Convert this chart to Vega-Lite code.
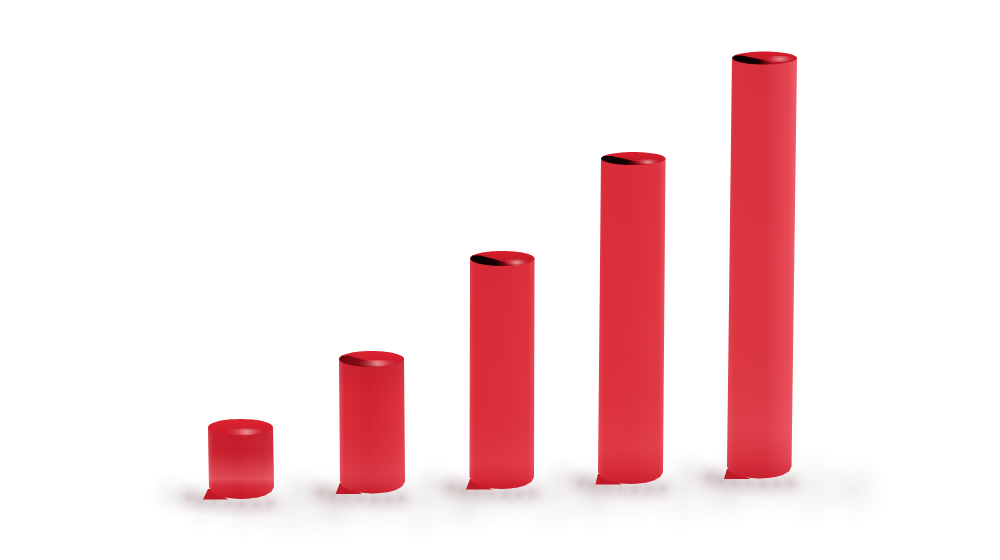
{"$schema":"https://vega.github.io/schema/vega-lite/v6.json","autosize":{"type":"fit","contains":"padding"},"padding":0,"width":1000,"height":560,"background":"#ffffff","view":{"stroke":null},
"datasets":{
"blobs":[
{"c":1,"k":"soft","x0":148,"x1":198,"y0":470,"y1":520},{"c":1,"k":"soft","x0":173,"x1":233,"y0":472,"y1":532},{"c":1,"k":"soft","x0":208,"x1":278,"y0":470,"y1":540},{"c":1,"k":"soft","x0":248,"x1":328,"y0":467,"y1":547},{"c":1,"k":"soft","x0":298,"x1":368,"y0":474,"y1":544},
{"c":2,"k":"soft","x0":280,"x1":330,"y0":465,"y1":515},{"c":2,"k":"soft","x0":305,"x1":365,"y0":467,"y1":527},{"c":2,"k":"soft","x0":340,"x1":410,"y0":465,"y1":535},{"c":2,"k":"soft","x0":380,"x1":460,"y0":462,"y1":542},{"c":2,"k":"soft","x0":430,"x1":500,"y0":469,"y1":539},
{"c":3,"k":"soft","x0":411,"x1":461,"y0":460,"y1":510},{"c":3,"k":"soft","x0":436,"x1":496,"y0":462,"y1":522},{"c":3,"k":"soft","x0":471,"x1":541,"y0":460,"y1":530},{"c":3,"k":"soft","x0":511,"x1":591,"y0":457,"y1":537},{"c":3,"k":"soft","x0":561,"x1":631,"y0":464,"y1":534},
{"c":4,"k":"soft","x0":541,"x1":591,"y0":455,"y1":505},{"c":4,"k":"soft","x0":566,"x1":626,"y0":457,"y1":517},{"c":4,"k":"soft","x0":601,"x1":671,"y0":455,"y1":525},{"c":4,"k":"soft","x0":641,"x1":721,"y0":452,"y1":532},{"c":4,"k":"soft","x0":691,"x1":761,"y0":459,"y1":529},
{"c":5,"k":"soft","x0":669,"x1":719,"y0":450,"y1":500},{"c":5,"k":"soft","x0":694,"x1":754,"y0":452,"y1":512},{"c":5,"k":"soft","x0":729,"x1":799,"y0":450,"y1":520},{"c":5,"k":"soft","x0":769,"x1":849,"y0":447,"y1":527},{"c":5,"k":"soft","x0":819,"x1":889,"y0":454,"y1":524},
{"c":1,"k":"tight","x0":171,"x1":205,"y0":480,"y1":514},{"c":1,"k":"tight","x0":183,"x1":217,"y0":483,"y1":517},{"c":1,"k":"tight","x0":197,"x1":231,"y0":485,"y1":519},{"c":1,"k":"tight","x0":211,"x1":245,"y0":486,"y1":520},{"c":1,"k":"tight","x0":225,"x1":259,"y0":487,"y1":521},{"c":1,"k":"tight","x0":239,"x1":273,"y0":487,"y1":521},{"c":1,"k":"tight","x0":253,"x1":287,"y0":486,"y1":520},
{"c":2,"k":"tight","x0":303,"x1":337,"y0":475,"y1":509},{"c":2,"k":"tight","x0":315,"x1":349,"y0":478,"y1":512},{"c":2,"k":"tight","x0":329,"x1":363,"y0":480,"y1":514},{"c":2,"k":"tight","x0":343,"x1":377,"y0":481,"y1":515},{"c":2,"k":"tight","x0":357,"x1":391,"y0":482,"y1":516},{"c":2,"k":"tight","x0":371,"x1":405,"y0":482,"y1":516},{"c":2,"k":"tight","x0":385,"x1":419,"y0":481,"y1":515},
{"c":3,"k":"tight","x0":434,"x1":468,"y0":470,"y1":504},{"c":3,"k":"tight","x0":446,"x1":480,"y0":473,"y1":507},{"c":3,"k":"tight","x0":460,"x1":494,"y0":475,"y1":509},{"c":3,"k":"tight","x0":474,"x1":508,"y0":476,"y1":510},{"c":3,"k":"tight","x0":488,"x1":522,"y0":477,"y1":511},{"c":3,"k":"tight","x0":502,"x1":536,"y0":477,"y1":511},{"c":3,"k":"tight","x0":516,"x1":550,"y0":476,"y1":510},
{"c":4,"k":"tight","x0":564,"x1":598,"y0":465,"y1":499},{"c":4,"k":"tight","x0":576,"x1":610,"y0":468,"y1":502},{"c":4,"k":"tight","x0":590,"x1":624,"y0":470,"y1":504},{"c":4,"k":"tight","x0":604,"x1":638,"y0":471,"y1":505},{"c":4,"k":"tight","x0":618,"x1":652,"y0":472,"y1":506},{"c":4,"k":"tight","x0":632,"x1":666,"y0":472,"y1":506},{"c":4,"k":"tight","x0":646,"x1":680,"y0":471,"y1":505},
{"c":5,"k":"tight","x0":692,"x1":726,"y0":460,"y1":494},{"c":5,"k":"tight","x0":704,"x1":738,"y0":463,"y1":497},{"c":5,"k":"tight","x0":718,"x1":752,"y0":465,"y1":499},{"c":5,"k":"tight","x0":732,"x1":766,"y0":466,"y1":500},{"c":5,"k":"tight","x0":746,"x1":780,"y0":467,"y1":501},{"c":5,"k":"tight","x0":760,"x1":794,"y0":467,"y1":501},{"c":5,"k":"tight","x0":774,"x1":808,"y0":466,"y1":500}],
"shapes":[
{"c":1,"p":"f","y":489,"xl":208,"xr":212},{"c":1,"p":"f","y":499.5,"xl":203,"xr":228},
{"c":2,"p":"f","y":483,"xl":340,"xr":344},{"c":2,"p":"f","y":494,"xl":335.5,"xr":362},
{"c":3,"p":"f","y":479,"xl":470,"xr":474},{"c":3,"p":"f","y":489.5,"xl":466,"xr":492},
{"c":4,"p":"f","y":474,"xl":598,"xr":602},{"c":4,"p":"f","y":484.5,"xl":595.5,"xr":622},
{"c":5,"p":"f","y":469,"xl":727,"xr":731},{"c":5,"p":"f","y":479,"xl":724,"xr":750},
{"c":1,"p":"b","y":427.5,"xl":208,"xr":273},{"c":1,"p":"b","y":487,"xl":209,"xr":274},{"c":1,"p":"b","y":491.8,"xl":211.7,"xr":271.3},{"c":1,"p":"b","y":495.4,"xl":218.3,"xr":264.7},{"c":1,"p":"b","y":497.4,"xl":225.5,"xr":257.5},{"c":1,"p":"b","y":498.6,"xl":233.6,"xr":249.4},{"c":1,"p":"b","y":499,"xl":241.5,"xr":241.5},
{"c":2,"p":"b","y":359,"xl":339,"xr":404},{"c":2,"p":"b","y":481.5,"xl":340,"xr":405},{"c":2,"p":"b","y":486.3,"xl":342.7,"xr":402.3},{"c":2,"p":"b","y":489.9,"xl":349.3,"xr":395.7},{"c":2,"p":"b","y":491.9,"xl":356.5,"xr":388.5},{"c":2,"p":"b","y":493.1,"xl":364.6,"xr":380.4},{"c":2,"p":"b","y":493.5,"xl":372.5,"xr":372.5},
{"c":3,"p":"b","y":258.5,"xl":470,"xr":534.5},{"c":3,"p":"b","y":477,"xl":469.5,"xr":534},{"c":3,"p":"b","y":481.8,"xl":472,"xr":531.5},{"c":3,"p":"b","y":485.4,"xl":478.7,"xr":524.8},{"c":3,"p":"b","y":487.4,"xl":485.8,"xr":517.7},{"c":3,"p":"b","y":488.6,"xl":493.9,"xr":509.6},{"c":3,"p":"b","y":489,"xl":501.75,"xr":501.75},
{"c":4,"p":"b","y":158.5,"xl":601,"xr":665.5},{"c":4,"p":"b","y":472,"xl":598,"xr":663},{"c":4,"p":"b","y":476.8,"xl":600.7,"xr":660.3},{"c":4,"p":"b","y":480.4,"xl":607.3,"xr":653.7},{"c":4,"p":"b","y":482.4,"xl":614.5,"xr":646.5},{"c":4,"p":"b","y":483.6,"xl":622.6,"xr":638.4},{"c":4,"p":"b","y":484,"xl":630.5,"xr":630.5},
{"c":5,"p":"b","y":58,"xl":732,"xr":797},{"c":5,"p":"b","y":466.5,"xl":727,"xr":791.5},{"c":5,"p":"b","y":471.3,"xl":729.4,"xr":789.1},{"c":5,"p":"b","y":474.9,"xl":736,"xr":782.5},{"c":5,"p":"b","y":476.9,"xl":743.2,"xr":775.3},{"c":5,"p":"b","y":478.1,"xl":751.3,"xr":767.2},{"c":5,"p":"b","y":478.5,"xl":759.25,"xr":759.25},
{"c":1,"p":"t","y":419,"xl":240.5,"xr":240.5},{"c":1,"p":"t","y":419.3,"xl":232.6,"xr":248.4},{"c":1,"p":"t","y":420.1,"xl":224.5,"xr":256.5},{"c":1,"p":"t","y":421.5,"xl":217.3,"xr":263.7},{"c":1,"p":"t","y":424.1,"xl":210.7,"xr":270.3},{"c":1,"p":"t","y":427.5,"xl":208,"xr":273},{"c":1,"p":"t","y":430.9,"xl":210.7,"xr":270.3},{"c":1,"p":"t","y":433.5,"xl":217.3,"xr":263.7},{"c":1,"p":"t","y":434.9,"xl":224.5,"xr":256.5},{"c":1,"p":"t","y":435.7,"xl":232.6,"xr":248.4},{"c":1,"p":"t","y":436,"xl":240.5,"xr":240.5},
{"c":2,"p":"t","y":351,"xl":371.5,"xr":371.5},{"c":2,"p":"t","y":351.2,"xl":363.6,"xr":379.4},{"c":2,"p":"t","y":352,"xl":355.5,"xr":387.5},{"c":2,"p":"t","y":353.4,"xl":348.3,"xr":394.7},{"c":2,"p":"t","y":355.8,"xl":341.7,"xr":401.3},{"c":2,"p":"t","y":359,"xl":339,"xr":404},{"c":2,"p":"t","y":362.2,"xl":341.7,"xr":401.3},{"c":2,"p":"t","y":364.6,"xl":348.3,"xr":394.7},{"c":2,"p":"t","y":366,"xl":355.5,"xr":387.5},{"c":2,"p":"t","y":366.8,"xl":363.6,"xr":379.4},{"c":2,"p":"t","y":367,"xl":371.5,"xr":371.5},
{"c":3,"p":"t","y":251,"xl":502.25,"xr":502.25},{"c":3,"p":"t","y":251.2,"xl":494.4,"xr":510.1},{"c":3,"p":"t","y":252,"xl":486.3,"xr":518.2},{"c":3,"p":"t","y":253.25,"xl":479.2,"xr":525.3},{"c":3,"p":"t","y":255.5,"xl":472.6,"xr":531.9},{"c":3,"p":"t","y":258.5,"xl":470,"xr":534.5},{"c":3,"p":"t","y":261.5,"xl":472.6,"xr":531.9},{"c":3,"p":"t","y":263.75,"xl":479.2,"xr":525.3},{"c":3,"p":"t","y":265,"xl":486.3,"xr":518.2},{"c":3,"p":"t","y":265.8,"xl":494.4,"xr":510.1},{"c":3,"p":"t","y":266,"xl":502.25,"xr":502.25},
{"c":4,"p":"t","y":152,"xl":633.25,"xr":633.25},{"c":4,"p":"t","y":152.2,"xl":625.4,"xr":641.1},{"c":4,"p":"t","y":153,"xl":617.3,"xr":649.2},{"c":4,"p":"t","y":154,"xl":610.1,"xr":656.4},{"c":4,"p":"t","y":155.9,"xl":603.5,"xr":663},{"c":4,"p":"t","y":158.5,"xl":601,"xr":665.5},{"c":4,"p":"t","y":161.1,"xl":603.5,"xr":663},{"c":4,"p":"t","y":163.1,"xl":610.1,"xr":656.4},{"c":4,"p":"t","y":164.2,"xl":617.3,"xr":649.2},{"c":4,"p":"t","y":164.8,"xl":625.4,"xr":641.1},{"c":4,"p":"t","y":165,"xl":633.25,"xr":633.25},
{"c":5,"p":"t","y":51.5,"xl":764.5,"xr":764.5},{"c":5,"p":"t","y":51.7,"xl":756.6,"xr":772.4},{"c":5,"p":"t","y":52.4,"xl":748.5,"xr":780.5},{"c":5,"p":"t","y":53.4,"xl":741.3,"xr":787.7},{"c":5,"p":"t","y":55.4,"xl":734.7,"xr":794.3},{"c":5,"p":"t","y":58,"xl":732,"xr":797},{"c":5,"p":"t","y":60.6,"xl":734.7,"xr":794.3},{"c":5,"p":"t","y":62.6,"xl":741.3,"xr":787.7},{"c":5,"p":"t","y":63.7,"xl":748.5,"xr":780.5},{"c":5,"p":"t","y":64.3,"xl":756.6,"xr":772.4},{"c":5,"p":"t","y":64.5,"xl":764.5,"xr":764.5},
{"c":2,"p":"d","y":355.8,"xl":341.7,"xr":349},{"c":2,"p":"d","y":359,"xl":339,"xr":361},{"c":2,"p":"d","y":362.2,"xl":341.7,"xr":372},{"c":2,"p":"d","y":364.6,"xl":348.3,"xr":379},{"c":2,"p":"d","y":366,"xl":355.5,"xr":383},{"c":2,"p":"d","y":366.8,"xl":363.6,"xr":379.4},{"c":2,"p":"d","y":367,"xl":371.5,"xr":371.5},
{"c":3,"p":"d","y":255.5,"xl":472.6,"xr":480},{"c":3,"p":"d","y":258.5,"xl":470,"xr":492},{"c":3,"p":"d","y":261.5,"xl":472.6,"xr":503},{"c":3,"p":"d","y":263.75,"xl":479.2,"xr":510},{"c":3,"p":"d","y":265,"xl":486.3,"xr":514},{"c":3,"p":"d","y":265.8,"xl":494.4,"xr":510.1},{"c":3,"p":"d","y":266,"xl":502.25,"xr":502.25},
{"c":4,"p":"d","y":155.9,"xl":603.5,"xr":611},{"c":4,"p":"d","y":158.5,"xl":601,"xr":623},{"c":4,"p":"d","y":161.1,"xl":603.5,"xr":634},{"c":4,"p":"d","y":163.1,"xl":610.1,"xr":641},{"c":4,"p":"d","y":164.2,"xl":617.3,"xr":645},{"c":4,"p":"d","y":164.8,"xl":625.4,"xr":641.1},{"c":4,"p":"d","y":165,"xl":633.25,"xr":633.25},
{"c":5,"p":"d","y":55.4,"xl":734.7,"xr":742},{"c":5,"p":"d","y":58,"xl":732,"xr":754},{"c":5,"p":"d","y":60.6,"xl":734.7,"xr":765},{"c":5,"p":"d","y":62.6,"xl":741.3,"xr":772},{"c":5,"p":"d","y":63.7,"xl":748.5,"xr":776},{"c":5,"p":"d","y":64.3,"xl":756.6,"xr":772.4},{"c":5,"p":"d","y":64.5,"xl":764.5,"xr":764.5},
{"c":1,"p":"h","y":428.5,"xl":240,"xr":254},{"c":1,"p":"h","y":430.5,"xl":230,"xr":264},{"c":1,"p":"h","y":432.5,"xl":227,"xr":265},{"c":1,"p":"h","y":434,"xl":232,"xr":258},{"c":1,"p":"h","y":435.3,"xl":238,"xr":250},
{"c":1,"p":"i","y":430,"xl":242,"xr":252},{"c":1,"p":"i","y":431.5,"xl":236,"xr":258},{"c":1,"p":"i","y":433,"xl":238,"xr":256},{"c":1,"p":"i","y":434.2,"xl":243,"xr":251},
{"c":2,"p":"h","y":360,"xl":371,"xr":385},{"c":2,"p":"h","y":362,"xl":361,"xr":395},{"c":2,"p":"h","y":364,"xl":358,"xr":396},{"c":2,"p":"h","y":365.5,"xl":363,"xr":389},{"c":2,"p":"h","y":366.5,"xl":369,"xr":381},
{"c":2,"p":"i","y":361.5,"xl":373,"xr":383},{"c":2,"p":"i","y":363,"xl":367,"xr":389},{"c":2,"p":"i","y":364.5,"xl":369,"xr":387},{"c":2,"p":"i","y":365.7,"xl":374,"xr":382},
{"c":3,"p":"h","y":259.5,"xl":511,"xr":521},{"c":3,"p":"h","y":261,"xl":505,"xr":529},{"c":3,"p":"h","y":263,"xl":504,"xr":528},{"c":3,"p":"h","y":264.5,"xl":509,"xr":522},{"c":3,"p":"h","y":265.4,"xl":513,"xr":518},
{"c":3,"p":"i","y":261,"xl":512,"xr":522},{"c":3,"p":"i","y":262.5,"xl":508,"xr":526},{"c":3,"p":"i","y":264,"xl":512,"xr":520},
{"c":4,"p":"h","y":159.5,"xl":642,"xr":652},{"c":4,"p":"h","y":161,"xl":636,"xr":660},{"c":4,"p":"h","y":163,"xl":636,"xr":658},{"c":4,"p":"h","y":164,"xl":641,"xr":652},
{"c":4,"p":"i","y":160.7,"xl":644,"xr":653},{"c":4,"p":"i","y":162,"xl":640,"xr":656},{"c":4,"p":"i","y":163.5,"xl":644,"xr":651},
{"c":5,"p":"h","y":56,"xl":775,"xr":785},{"c":5,"p":"h","y":58,"xl":766,"xr":794},{"c":5,"p":"h","y":60,"xl":768,"xr":792},{"c":5,"p":"h","y":62,"xl":772,"xr":786},
{"c":5,"p":"i","y":57.5,"xl":775,"xr":786},{"c":5,"p":"i","y":59,"xl":770,"xr":790},{"c":5,"p":"i","y":60.5,"xl":775,"xr":785}
]},
"layer":[
{"data":{"name":"blobs"},"transform":[{"filter":"datum.k=='soft'"}],"mark":{"type":"rect","fill":{"gradient":"radial","x1":0.5,"y1":0.5,"r1":0,"x2":0.5,"y2":0.5,"r2":0.5,"stops":[{"offset":0,"color":"rgba(125,100,105,0.1)"},{"offset":0.5,"color":"rgba(130,105,110,0.045)"},{"offset":1,"color":"rgba(150,130,135,0)"}]}},
 "encoding":{"x":{"field":"x0","type":"quantitative","scale":{"domain":[0,1000],"nice":false,"zero":false},"axis":null},"x2":{"field":"x1"},"y":{"field":"y0","type":"quantitative","scale":{"domain":[0,560],"reverse":true,"nice":false,"zero":false},"axis":null},"y2":{"field":"y1"}}},
{"data":{"name":"blobs"},"transform":[{"filter":"datum.k=='tight'"}],"mark":{"type":"rect","fill":{"gradient":"radial","x1":0.5,"y1":0.5,"r1":0,"x2":0.5,"y2":0.5,"r2":0.5,"stops":[{"offset":0,"color":"rgba(110,60,65,0.2)"},{"offset":0.5,"color":"rgba(120,70,75,0.07)"},{"offset":1,"color":"rgba(150,120,125,0)"}]}},
 "encoding":{"x":{"field":"x0","type":"quantitative","scale":{"domain":[0,1000],"nice":false,"zero":false},"axis":null},"x2":{"field":"x1"},"y":{"field":"y0","type":"quantitative","scale":{"domain":[0,560],"reverse":true,"nice":false,"zero":false},"axis":null},"y2":{"field":"y1"}}},
{"data":{"name":"shapes"},
 "encoding":{"x":{"field":"xl","type":"quantitative","scale":{"domain":[0,1000],"nice":false,"zero":false},"axis":null},"x2":{"field":"xr"},"y":{"field":"y","type":"quantitative","scale":{"domain":[0,560],"reverse":true,"nice":false,"zero":false},"axis":null},"detail":{"field":"c"}},
 "layer":[
 {"transform":[{"filter":"datum.p=='f'"}],"mark":{"type":"area","orient":"horizontal","fill":"#bd1a25"}},
 {"transform":[{"filter":"datum.p=='b' && datum.c<=2"}],"mark":{"type":"area","orient":"horizontal","fill":{"gradient":"linear","x1":0,"y1":0,"x2":1,"y2":0,"stops":[{"offset":0,"color":"#e8525d"},{"offset":0.08,"color":"#d92c39"},{"offset":0.45,"color":"#d32433"},{"offset":0.85,"color":"#db2f3c"},{"offset":1,"color":"#e23f4b"}]}}},
 {"transform":[{"filter":"datum.p=='b' && datum.c==1"}],"mark":{"type":"area","orient":"horizontal","fill":{"gradient":"linear","x1":0,"y1":0,"x2":0,"y2":1,"stops":[{"offset":0,"color":"rgba(140,0,15,0.25)"},{"offset":0.35,"color":"rgba(140,0,15,0.2)"},{"offset":0.72,"color":"rgba(255,200,200,0.22)"},{"offset":0.88,"color":"rgba(160,0,15,0.1)"},{"offset":1,"color":"rgba(160,0,15,0.35)"}]}}},
 {"transform":[{"filter":"datum.p=='b' && datum.c==2"}],"mark":{"type":"area","orient":"horizontal","fill":{"gradient":"linear","x1":0,"y1":0,"x2":0,"y2":1,"stops":[{"offset":0,"color":"rgba(140,0,15,0.2)"},{"offset":0.3,"color":"rgba(140,0,15,0.02)"},{"offset":0.8,"color":"rgba(255,200,200,0.08)"},{"offset":1,"color":"rgba(160,0,15,0.3)"}]}}},
 {"transform":[{"filter":"datum.p=='b' && datum.c==3"}],"mark":{"type":"area","orient":"horizontal","fill":{"gradient":"linear","x1":0,"y1":0,"x2":1,"y2":0,"stops":[{"offset":0,"color":"#e44a55"},{"offset":0.07,"color":"#da2d3a"},{"offset":0.5,"color":"#da2e3b"},{"offset":0.9,"color":"#de3441"},{"offset":1,"color":"#e94c58"}]}}},
 {"transform":[{"filter":"datum.p=='b' && datum.c==4"}],"mark":{"type":"area","orient":"horizontal","fill":{"gradient":"linear","x1":0,"y1":0,"x2":1,"y2":0,"stops":[{"offset":0,"color":"#e34b56"},{"offset":0.08,"color":"#dd2f3c"},{"offset":0.5,"color":"#db303d"},{"offset":0.9,"color":"#e03844"},{"offset":1,"color":"#ec5a65"}]}}},
 {"transform":[{"filter":"datum.p=='b' && datum.c==5"}],"mark":{"type":"area","orient":"horizontal","fill":{"gradient":"linear","x1":0,"y1":0,"x2":1,"y2":0,"stops":[{"offset":0,"color":"#e04a55"},{"offset":0.1,"color":"#dc3642"},{"offset":0.55,"color":"#da3541"},{"offset":0.88,"color":"#e74b57"},{"offset":1,"color":"#f26a75"}]}}},
 {"transform":[{"filter":"datum.p=='b' && datum.c>=3"}],"mark":{"type":"area","orient":"horizontal","fill":{"gradient":"linear","x1":0,"y1":0,"x2":0,"y2":1,"stops":[{"offset":0,"color":"rgba(190,10,30,0.1)"},{"offset":0.55,"color":"rgba(190,10,30,0)"},{"offset":0.88,"color":"rgba(255,170,170,0.08)"},{"offset":0.96,"color":"rgba(170,0,20,0.12)"},{"offset":1,"color":"rgba(170,0,20,0.4)"}]}}},
 {"transform":[{"filter":"datum.p=='t' && datum.c<=2"}],"mark":{"type":"area","orient":"horizontal","interpolate":"monotone","fill":{"gradient":"linear","x1":0,"y1":0,"x2":0,"y2":1,"stops":[{"offset":0,"color":"#dc2431"},{"offset":1,"color":"#c91b2a"}]}}},
 {"transform":[{"filter":"datum.p=='t' && datum.c>=3"}],"mark":{"type":"area","orient":"horizontal","interpolate":"monotone","fill":{"gradient":"linear","x1":0,"y1":0,"x2":0,"y2":1,"stops":[{"offset":0,"color":"#d81f2e"},{"offset":1,"color":"#b81624"}]}}},
 {"transform":[{"filter":"datum.p=='d' && datum.c==2"}],"mark":{"type":"area","orient":"horizontal","fill":{"gradient":"linear","x1":0,"y1":0,"x2":1,"y2":0,"stops":[{"offset":0,"color":"rgba(100,5,12,0.95)"},{"offset":0.5,"color":"rgba(110,8,16,0.75)"},{"offset":1,"color":"rgba(130,10,20,0)"}]}}},
 {"transform":[{"filter":"datum.p=='d' && datum.c>=3"}],"mark":{"type":"area","orient":"horizontal","fill":{"gradient":"linear","x1":0,"y1":0,"x2":1,"y2":0,"stops":[{"offset":0,"color":"rgba(5,0,0,1)"},{"offset":0.6,"color":"rgba(15,0,0,0.95)"},{"offset":1,"color":"rgba(80,0,8,0)"}]}}},
 {"transform":[{"filter":"datum.p=='h'"}],"mark":{"type":"area","orient":"horizontal","interpolate":"monotone","fill":{"gradient":"linear","x1":0,"y1":0,"x2":1,"y2":0,"stops":[{"offset":0,"color":"rgba(255,225,225,0)"},{"offset":0.5,"color":"rgba(255,225,225,0.3)"},{"offset":1,"color":"rgba(255,225,225,0)"}]}}},
 {"transform":[{"filter":"datum.p=='i'"}],"mark":{"type":"area","orient":"horizontal","interpolate":"monotone","fill":{"gradient":"linear","x1":0,"y1":0,"x2":1,"y2":0,"stops":[{"offset":0,"color":"rgba(255,235,235,0)"},{"offset":0.5,"color":"rgba(255,235,235,0.35)"},{"offset":1,"color":"rgba(255,235,235,0)"}]}}}
 ]}
]}
